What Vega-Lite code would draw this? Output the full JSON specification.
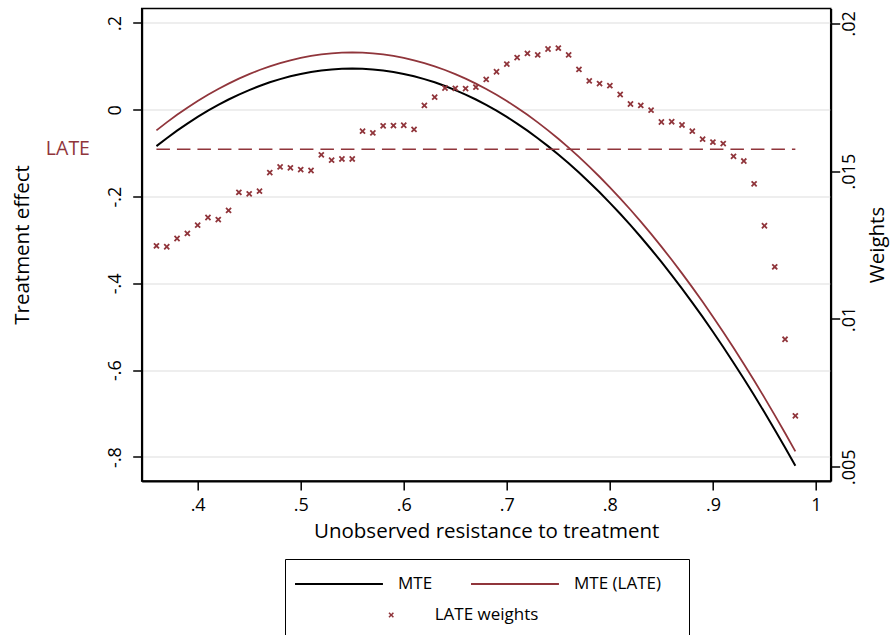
{
  "$schema": "https://vega.github.io/schema/vega-lite/v6.json",
  "width": 689,
  "height": 472.5,
  "autosize": {"type": "none"},
  "padding": {"left": 141.7, "top": 8.5, "right": 62.3, "bottom": 154},
  "background": "white",
  "config": {
    "font": "Open Sans",
    "view": {"stroke": "black", "strokeWidth": 1.5},
    "axis": {
      "labelFont": "Open Sans",
      "titleFont": "Open Sans",
      "labelColor": "black",
      "titleColor": "black",
      "titleFontWeight": "normal",
      "labelFontSize": 18,
      "titleFontSize": 20.5,
      "tickColor": "black",
      "tickSize": 9,
      "tickWidth": 1.5,
      "domainColor": "black",
      "domainWidth": 2,
      "labelFlush": false,
      "labelOverlap": false
    }
  },
  "datasets": {
    "curves": [
      {"u":0.36,"mte":-0.0837,"mtel":-0.0474,"w":0.01247},
      {"u":0.37,"mte":-0.0654,"mtel":-0.0290,"w":0.01244},
      {"u":0.38,"mte":-0.0481,"mtel":-0.0116,"w":0.01272},
      {"u":0.39,"mte":-0.0317,"mtel":0.0048,"w":0.01289},
      {"u":0.40,"mte":-0.0164,"mtel":0.0202,"w":0.01317},
      {"u":0.41,"mte":-0.0020,"mtel":0.0346,"w":0.01343},
      {"u":0.42,"mte":0.0113,"mtel":0.0480,"w":0.01336},
      {"u":0.43,"mte":0.0237,"mtel":0.0604,"w":0.01367},
      {"u":0.44,"mte":0.0351,"mtel":0.0719,"w":0.01428},
      {"u":0.45,"mte":0.0455,"mtel":0.0823,"w":0.01423},
      {"u":0.46,"mte":0.0549,"mtel":0.0917,"w":0.01432},
      {"u":0.47,"mte":0.0633,"mtel":0.1002,"w":0.01495},
      {"u":0.48,"mte":0.0707,"mtel":0.1076,"w":0.01514},
      {"u":0.49,"mte":0.0772,"mtel":0.1141,"w":0.01511},
      {"u":0.50,"mte":0.0826,"mtel":0.1196,"w":0.01505},
      {"u":0.51,"mte":0.0871,"mtel":0.1240,"w":0.01502},
      {"u":0.52,"mte":0.0905,"mtel":0.1275,"w":0.01555},
      {"u":0.53,"mte":0.0930,"mtel":0.1300,"w":0.01537},
      {"u":0.54,"mte":0.0945,"mtel":0.1315,"w":0.01541},
      {"u":0.55,"mte":0.0950,"mtel":0.1320,"w":0.01541},
      {"u":0.56,"mte":0.0945,"mtel":0.1315,"w":0.01635},
      {"u":0.57,"mte":0.0930,"mtel":0.1300,"w":0.01629},
      {"u":0.58,"mte":0.0905,"mtel":0.1275,"w":0.01653},
      {"u":0.59,"mte":0.0871,"mtel":0.1240,"w":0.01654},
      {"u":0.60,"mte":0.0826,"mtel":0.1196,"w":0.01655},
      {"u":0.61,"mte":0.0772,"mtel":0.1141,"w":0.01641},
      {"u":0.62,"mte":0.0707,"mtel":0.1076,"w":0.01722},
      {"u":0.63,"mte":0.0633,"mtel":0.1002,"w":0.01750},
      {"u":0.64,"mte":0.0549,"mtel":0.0917,"w":0.01781},
      {"u":0.65,"mte":0.0455,"mtel":0.0823,"w":0.01780},
      {"u":0.66,"mte":0.0351,"mtel":0.0719,"w":0.01779},
      {"u":0.67,"mte":0.0237,"mtel":0.0604,"w":0.01784},
      {"u":0.68,"mte":0.0113,"mtel":0.0480,"w":0.01810},
      {"u":0.69,"mte":-0.0020,"mtel":0.0346,"w":0.01836},
      {"u":0.70,"mte":-0.0164,"mtel":0.0202,"w":0.01862},
      {"u":0.71,"mte":-0.0317,"mtel":0.0048,"w":0.01884},
      {"u":0.72,"mte":-0.0481,"mtel":-0.0116,"w":0.01898},
      {"u":0.73,"mte":-0.0654,"mtel":-0.0290,"w":0.01893},
      {"u":0.74,"mte":-0.0837,"mtel":-0.0474,"w":0.01913},
      {"u":0.75,"mte":-0.1030,"mtel":-0.0668,"w":0.01916},
      {"u":0.76,"mte":-0.1233,"mtel":-0.0872,"w":0.01893},
      {"u":0.77,"mte":-0.1446,"mtel":-0.1085,"w":0.01844},
      {"u":0.78,"mte":-0.1669,"mtel":-0.1309,"w":0.01805},
      {"u":0.79,"mte":-0.1901,"mtel":-0.1543,"w":0.01796},
      {"u":0.80,"mte":-0.2144,"mtel":-0.1786,"w":0.01789},
      {"u":0.81,"mte":-0.2396,"mtel":-0.2040,"w":0.01759},
      {"u":0.82,"mte":-0.2659,"mtel":-0.2303,"w":0.01727},
      {"u":0.83,"mte":-0.2931,"mtel":-0.2576,"w":0.01722},
      {"u":0.84,"mte":-0.3213,"mtel":-0.2860,"w":0.01706},
      {"u":0.85,"mte":-0.3505,"mtel":-0.3153,"w":0.01666},
      {"u":0.86,"mte":-0.3807,"mtel":-0.3456,"w":0.01667},
      {"u":0.87,"mte":-0.4119,"mtel":-0.3769,"w":0.01656},
      {"u":0.88,"mte":-0.4441,"mtel":-0.4092,"w":0.01635},
      {"u":0.89,"mte":-0.4772,"mtel":-0.4425,"w":0.01608},
      {"u":0.90,"mte":-0.5114,"mtel":-0.4768,"w":0.01598},
      {"u":0.91,"mte":-0.5465,"mtel":-0.5121,"w":0.01593},
      {"u":0.92,"mte":-0.5827,"mtel":-0.5484,"w":0.01550},
      {"u":0.93,"mte":-0.6198,"mtel":-0.5857,"w":0.01534},
      {"u":0.94,"mte":-0.6579,"mtel":-0.6239,"w":0.01457},
      {"u":0.95,"mte":-0.6970,"mtel":-0.6632,"w":0.01315},
      {"u":0.96,"mte":-0.7371,"mtel":-0.7035,"w":0.01176},
      {"u":0.97,"mte":-0.7782,"mtel":-0.7447,"w":0.00931},
      {"u":0.98,"mte":-0.8203,"mtel":-0.7870,"w":0.00672}
    ],
    "late": [
      {"u":0.36,"late":-0.0907},
      {"u":0.98,"late":-0.0907}
    ],
    "latelab": [
      {"u":0.2955,"late":-0.0907,"label":"LATE"}
    ]
  },
  "layer": [
    {
      "layer": [
        {
          "data": {"name": "curves"},
          "mark": {"type": "line", "strokeWidth": 2},
          "encoding": {
            "x": {
              "field": "u", "type": "quantitative",
              "scale": {"domain": [0.3457, 1.0143], "nice": false, "zero": false},
              "axis": {
                "values": [0.4,0.5,0.6,0.7,0.8,0.9,1],
                "labelExpr": "replace(format(datum.value, ''), '0.', '.')",
                "grid": false,
                "labelPadding": 6,
                "titlePadding": 7
              },
              "title": "Unobserved resistance to treatment"
            },
            "y": {
              "field": "mte", "type": "quantitative",
              "scale": {"domain": [-0.8553, 0.2334], "nice": false, "zero": false},
              "axis": {
                "orient": "left",
                "values": [-0.8,-0.6,-0.4,-0.2,0,0.2],
                "labelExpr": "datum.value == 0 ? '0' : (datum.value < 0 ? '-' : '') + replace(format(abs(datum.value), ''), '0.', '.')",
                "labelAngle": 270,
                "labelAlign": "center",
                "labelBaseline": "alphabetic",
                "labelPadding": 12,
                "grid": true,
                "gridColor": "#e8e8e8",
                "gridWidth": 1.5,
                "titleAngle": 270,
                "titleBaseline": "alphabetic",
                "titleX": -113,
                "titleY": 236
              },
              "title": "Treatment effect"
            },
            "color": {
              "datum": "MTE", "type": "nominal",
              "scale": {"domain": ["MTE", "MTE (LATE)", "LATE weights"], "range": ["#000000", "#90353b", "transparent"]},
              "legend": {
                "title": "MM",
                "titleOrient": "right",
                "titleColor": "transparent",
                "titleFontSize": 6,
                "titlePadding": 6,
                "orient": "none",
                "legendX": 143.3,
                "legendY": 550.5,
                "direction": "horizontal",
                "columns": 2,
                "columnPadding": 34,
                "rowPadding": 2,
                "padding": 10,
                "strokeColor": "black",
                "fillColor": "white",
                "symbolType": "M-1.07,0L5.21,0",
                "symbolSize": 784,
                "symbolStrokeWidth": 2,
                "symbolOpacity": 1,
                "labelFont": "Open Sans",
                "labelFontSize": 17,
                "labelColor": "black",
                "labelOffset": 73,
                "labelLimit": 400,
                "labelExpr": "datum.label == 'LATE weights' ? ['\u00a0', '\u00a0', '\u00a0'] : datum.label"
              }
            }
          }
        },
        {
          "data": {"name": "curves"},
          "mark": {"type": "line", "strokeWidth": 1.8},
          "encoding": {
            "x": {"field": "u", "type": "quantitative", "scale": {"domain": [0.3457, 1.0143], "nice": false, "zero": false}, "title": "Unobserved resistance to treatment"},
            "y": {"field": "mtel", "type": "quantitative", "scale": {"domain": [-0.8553, 0.2334], "nice": false, "zero": false}, "title": "Treatment effect"},
            "color": {"datum": "MTE (LATE)", "type": "nominal", "scale": {"domain": ["MTE", "MTE (LATE)", "LATE weights"], "range": ["#000000", "#90353b", "transparent"]}}
          }
        },
        {
          "data": {"name": "late"},
          "mark": {"type": "line", "strokeWidth": 1.5, "color": "#90353b", "strokeDash": [13.5, 7]},
          "encoding": {
            "x": {"field": "u", "type": "quantitative", "scale": {"domain": [0.3457, 1.0143], "nice": false, "zero": false}, "title": "Unobserved resistance to treatment"},
            "y": {"field": "late", "type": "quantitative", "scale": {"domain": [-0.8553, 0.2334], "nice": false, "zero": false}, "title": "Treatment effect"}
          }
        },
        {
          "data": {"name": "latelab"},
          "mark": {"type": "text", "align": "right", "baseline": "middle", "fontSize": 19.5, "font": "Open Sans", "color": "#90353b"},
          "encoding": {
            "x": {"field": "u", "type": "quantitative", "scale": {"domain": [0.3457, 1.0143], "nice": false, "zero": false}, "title": "Unobserved resistance to treatment"},
            "y": {"field": "late", "type": "quantitative", "scale": {"domain": [-0.8553, 0.2334], "nice": false, "zero": false}, "title": "Treatment effect"},
            "text": {"field": "label"}
          }
        }
      ]
    },
    {
      "data": {"name": "curves"},
      "mark": {"type": "point", "filled": true, "size": 40, "opacity": 1, "color": "#90353b"},
      "encoding": {
        "x": {"field": "u", "type": "quantitative", "scale": {"domain": [0.3457, 1.0143], "nice": false, "zero": false}, "title": "Unobserved resistance to treatment"},
        "y": {
          "field": "w", "type": "quantitative",
          "scale": {"domain": [0.004516, 0.0205], "nice": false, "zero": false},
          "axis": {
            "orient": "right",
            "values": [0.005, 0.01, 0.015, 0.02],
            "labelExpr": "replace(format(datum.value, ''), '0.', '.')",
            "labelAngle": 270,
            "labelAlign": "center",
            "labelBaseline": "top",
            "labelPadding": 1,
            "grid": false,
            "titleAngle": 270,
            "titleBaseline": "alphabetic",
            "titleX": 53,
            "titleY": 236
          },
          "title": "Weights"
        },
        "shape": {
          "datum": "LATE weights", "type": "nominal",
          "scale": {"domain": ["LATE weights"], "range": ["M-1,-0.6L-0.6,-1L0,-0.4L0.6,-1L1,-0.6L0.4,0L1,0.6L0.6,1L0,0.4L-0.6,1L-1,0.6L-0.4,0Z"]},
          "legend": {
            "title": null,
            "orient": "none",
            "legendX": 241,
            "legendY": 598,
            "padding": 0,
            "symbolSize": 30,
            "symbolFillColor": "#90353b",
            "symbolStrokeColor": "#90353b",
            "symbolStrokeWidth": 0,
            "symbolOpacity": 1,
            "labelFont": "Open Sans",
            "labelFontSize": 17,
            "labelColor": "black",
            "labelOffset": 35,
            "labelLimit": 300
          }
        }
      }
    }
  ],
  "resolve": {"scale": {"y": "independent"}}
}
